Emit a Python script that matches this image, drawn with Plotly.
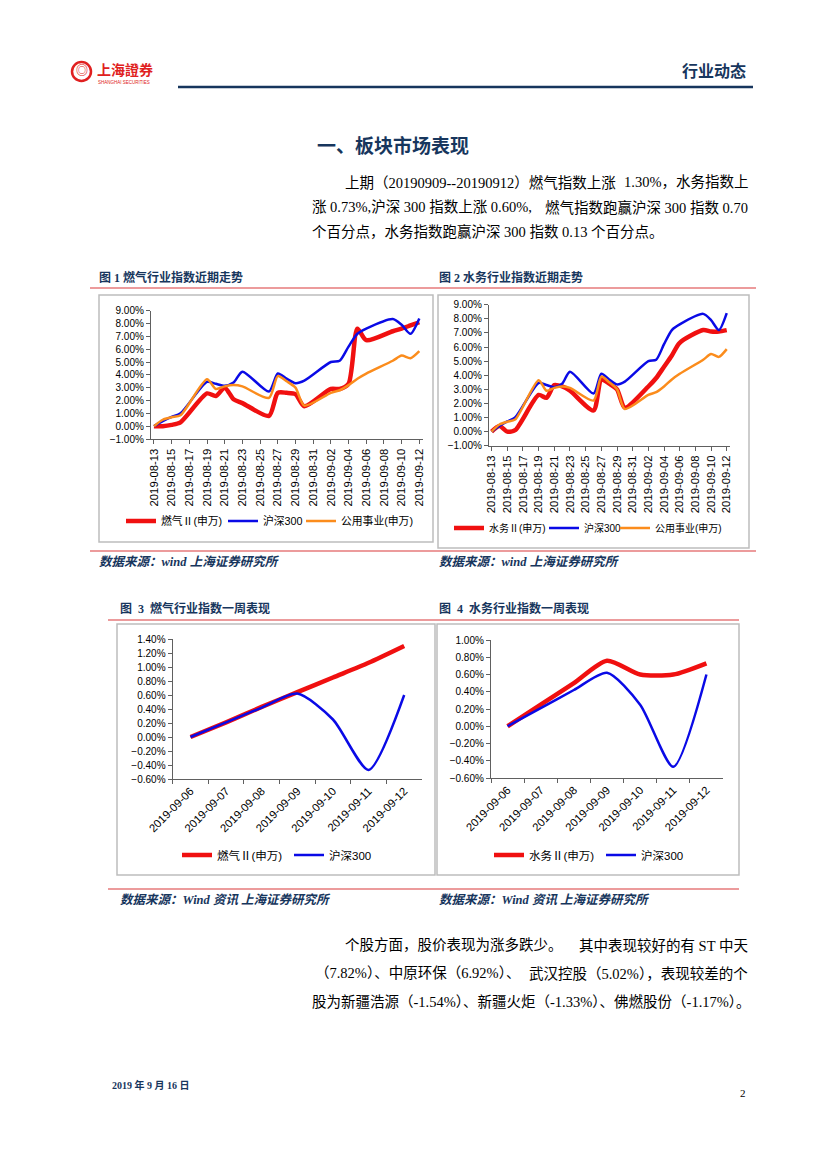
import plotly.graph_objects as go

PAGE_W, PAGE_H = 827, 1169
OFF = 8  # default body margin of the page
FW, FH = PAGE_W - 2 * OFF, PAGE_H - 2 * OFF

# ---------------- data ----------------
dates_month = ["2019-08-13", "2019-08-14", "2019-08-15", "2019-08-16", "2019-08-19", "2019-08-20",
               "2019-08-21", "2019-08-22", "2019-08-23", "2019-08-26", "2019-08-27", "2019-08-28",
               "2019-08-29", "2019-08-30", "2019-09-02", "2019-09-03", "2019-09-04", "2019-09-05",
               "2019-09-06", "2019-09-09", "2019-09-10", "2019-09-11", "2019-09-12"]
gas_month = [0.00, 0.00, 0.10, 0.30, 2.55, 2.35, 3.00, 2.10, 1.80, 0.80, 2.60, 2.60,
             2.50, 1.55, 2.90, 2.90, 3.30, 7.60, 6.70, 7.40, 7.60, 7.85, 8.10]
water_month = [0.00, 0.40, 0.00, 0.10, 2.60, 2.40, 3.30, 3.20, 2.90, 1.50, 3.70, 3.40,
               3.00, 1.70, 3.20, 3.80, 4.60, 5.40, 6.30, 7.20, 7.10, 7.10, 7.20]
hs300_month = [0.00, 0.40, 0.72, 1.00, 3.45, 3.30, 3.15, 3.40, 4.25, 2.70, 4.10, 3.70,
               3.35, 3.55, 5.00, 5.10, 6.20, 7.20, 7.60, 8.35, 7.90, 7.20, 8.40]
util_month = [0.00, 0.50, 0.70, 0.85, 3.65, 2.90, 3.10, 3.20, 3.10, 2.20, 3.90, 3.50,
              3.00, 1.60, 2.60, 2.80, 3.20, 3.70, 4.10, 5.10, 5.50, 5.30, 5.85]
month_ticks = ["2019-08-13", "2019-08-15", "2019-08-17", "2019-08-19", "2019-08-21", "2019-08-23",
               "2019-08-25", "2019-08-27", "2019-08-29", "2019-08-31", "2019-09-02", "2019-09-04",
               "2019-09-06", "2019-09-08", "2019-09-10", "2019-09-12"]

week_dates = ["2019-09-06", "2019-09-07", "2019-09-08", "2019-09-09", "2019-09-10", "2019-09-11", "2019-09-12"]
gas_week = [0.00, 0.21, 0.43, 0.64, 0.85, 1.06, 1.30]
water_week = [0.00, 0.25, 0.50, 0.76, 0.60, 0.60, 0.73]
hs300_week = [0.00, 0.21, 0.42, 0.62, 0.25, -0.47, 0.60]

name_gas = "燃气Ⅱ(申万)"
name_water = "水务Ⅱ(申万)"
name_hs = "沪深300"
name_util = "公用事业(申万)"

# ---------------- style ----------------
RED = "#f01010"
BLUE = "#0a0ae6"
ORANGE = "#fb8c1c"
NAVY = "#17365d"
SEP = "#d9393b"
BOX = "#bdbdbd"
AX = "#606060"
SANS = "Liberation Sans, Arial, Noto Sans CJK SC"
SERIF = "Liberation Serif, Noto Sans CJK SC"


def X(p):
    return (p - OFF) / FW


def Y(p):
    return 1 - (p - OFF) / FH


fig = go.Figure()


def add_line(x, y, name, color, width, xa, ya, legend, lw=None):
    fig.add_trace(go.Scatter(
        x=x, y=y, name=name, mode="lines",
        line=dict(color=color, width=width, shape="spline", smoothing=0.7),
        xaxis=xa, yaxis=ya, legend=legend, legendwidth=lw, hoverinfo="skip"))


add_line(dates_month, gas_month, name_gas, RED, 4.5, "x", "y", "legend", 57)
add_line(dates_month, hs300_month, name_hs, BLUE, 2.5, "x", "y", "legend", 33)
add_line(dates_month, util_month, name_util, ORANGE, 2.5, "x", "y", "legend")

add_line(dates_month, water_month, name_water, RED, 4.5, "x2", "y2", "legend2", 50)
add_line(dates_month, hs300_month, name_hs, BLUE, 2.5, "x2", "y2", "legend2", 26)
add_line(dates_month, util_month, name_util, ORANGE, 2.5, "x2", "y2", "legend2")

add_line(week_dates, gas_week, name_gas, RED, 4.5, "x3", "y3", "legend3", 67)
add_line(week_dates, hs300_week, name_hs, BLUE, 2.5, "x3", "y3", "legend3")

add_line(week_dates, water_week, name_water, RED, 4.5, "x4", "y4", "legend4", 67)
add_line(week_dates, hs300_week, name_hs, BLUE, 2.5, "x4", "y4", "legend4")

yfont = dict(family=SANS, size=10, color="#000")
xfont = dict(family=SANS, size=11.3, color="#000")


def xdate(dom, anchor):
    return dict(domain=dom, anchor=anchor, type="date", automargin=False,
                range=["2019-08-12 16:00", "2019-09-12 10:00"],
                tickvals=month_ticks, ticktext=month_ticks, tickangle=-90,
                showline=True, linecolor=AX, linewidth=1.3, ticks="outside", ticklen=4,
                tickcolor=AX, showgrid=False, zeroline=False, tickfont=xfont)


def ypct(dom, anchor, rng, dt):
    return dict(domain=dom, anchor=anchor, range=rng, dtick=dt, tick0=0, automargin=False,
                ticksuffix="%", tickformat=".2f", showline=True, linecolor=AX, linewidth=1.3,
                ticks="outside", ticklen=4, tickcolor=AX, showgrid=False, zeroline=False,
                tickfont=yfont)


def xcat(dom, anchor):
    return dict(domain=dom, anchor=anchor, type="category", range=[-0.5, 6.5],
                automargin=False,
                tickson="boundaries", tickangle=-45, showline=True, linecolor=AX,
                linewidth=1.3, ticks="outside", ticklen=4, tickcolor=AX, showgrid=False,
                zeroline=False, tickfont=xfont)


def legend_at(xp, yp, size):
    return dict(x=X(xp), y=Y(yp), xanchor="left", yanchor="middle", orientation="h",
                font=dict(family=SANS, size=size, color="#000"), bgcolor="rgba(0,0,0,0)",
                itemwidth=30, tracegroupgap=0, itemclick=False, itemdoubleclick=False)


shapes = []


def rect(x0, y0, x1, y1, color, w):
    shapes.append(dict(type="rect", xref="paper", yref="paper", x0=X(x0), x1=X(x1),
                       y0=Y(y1), y1=Y(y0), line=dict(color=color, width=w)))


def hline(x0, x1, y, color, w):
    shapes.append(dict(type="line", xref="paper", yref="paper", x0=X(x0), x1=X(x1),
                       y0=Y(y), y1=Y(y), line=dict(color=color, width=w)))


# header
hline(178, 753, 87, NAVY, 2.5)
shapes.append(dict(type="circle", xref="paper", yref="paper", x0=X(72), x1=X(91),
                   y0=Y(81), y1=Y(62), line=dict(color="#e02020", width=2.5)))
# separators
hline(90, 756, 288, SEP, 1.2)
hline(90, 756, 551, SEP, 1.2)
hline(108, 739, 620, SEP, 1.2)
hline(108, 739, 889, SEP, 1.2)
# chart boxes
rect(99, 295, 433, 542, BOX, 1.5)
rect(438, 295, 749, 548, BOX, 1.5)
rect(117, 624, 435, 875, BOX, 1.5)
rect(437, 624, 739, 875, BOX, 1.5)

ann = []


def text(x, y, s, size=14.5, color="#000", family=SERIF, anchor="left"):
    ann.append(dict(x=X(x), y=Y(y), xref="paper", yref="paper", text=s, showarrow=False,
                    xanchor=anchor, yanchor="middle",
                    font=dict(size=size, color=color, family=family)))


# logo
text(81.5, 71.5, "<b>◎</b>", 12, "#e02020", SANS, "center")
text(95, 69, "<b>上海證券</b>", 14, "#e02020", "Noto Sans CJK TC", "left")
text(96, 83, "SHANGHAI SECURITIES", 4.5, "#e02020", SANS, "left")
text(748, 70, "<b>行业动态</b>", 16, NAVY, "Noto Sans CJK SC", "right")

text(393, 145, "<b>一、板块市场表现</b>", 19, NAVY, "Noto Sans CJK SC", "center")

# paragraph 1 (justified lines are set in two runs)
text(343, 182, "上期（20190909--20190912）燃气指数上涨")
text(750, 182, "1.30%，水务指数上", anchor="right")
text(310, 207, "涨 0.73%,沪深 300 指数上涨 0.60%,")
text(750, 207, "燃气指数跑赢沪深 300 指数 0.70", anchor="right")
text(310, 232, "个百分点，水务指数跑赢沪深 300 指数 0.13 个百分点。")

text(97, 277, "<b>图 1 燃气行业指数近期走势</b>", 12, NAVY)
text(437, 277, "<b>图 2 水务行业指数近期走势</b>", 12, NAVY)
text(97, 562, "<b><i>数据来源：wind 上海证券研究所</i></b>", 12.5, NAVY)
text(437, 562, "<b><i>数据来源：wind 上海证券研究所</i></b>", 12.5, NAVY)

text(118, 608, "<b>图  3  燃气行业指数一周表现</b>", 12, NAVY)
text(437, 608, "<b>图  4  水务行业指数一周表现</b>", 12, NAVY)
text(118, 900, "<b><i>数据来源：Wind 资讯 上海证券研究所</i></b>", 12.5, NAVY)
text(437, 900, "<b><i>数据来源：Wind 资讯 上海证券研究所</i></b>", 12.5, NAVY)

# paragraph 2
text(343, 945, "个股方面，股价表现为涨多跌少。")
text(750, 945, "其中表现较好的有 ST 中天", anchor="right")
text(313, 973, "（7.82%）、中原环保（6.92%）、")
text(750, 973, "武汉控股（5.02%），表现较差的个", anchor="right")
text(310, 1001, "股为新疆浩源（-1.54%）、新疆火炬（-1.33%）、佛燃股份（-1.17%）。")

text(110, 1085, "<b>2019 年 9 月 16 日</b>", 10, NAVY)
text(748, 1093, "2", 11, "#000", SERIF, "right")

fig.update_layout(
    width=FW, height=FH, margin=dict(l=0, r=0, t=0, b=0, autoexpand=False),
    paper_bgcolor="white", plot_bgcolor="white",
    xaxis=xdate([X(151), X(423)], "y"),
    yaxis=ypct([Y(439), Y(310.7)], "x", [-1, 9], 1),
    xaxis2=xdate([X(489), X(730)], "y2"),
    yaxis2=ypct([Y(445.7), Y(304.7)], "x2", [-1, 9], 1),
    xaxis3=xcat([X(172.7), X(422)], "y3"),
    yaxis3=ypct([Y(779), Y(639)], "x3", [-0.6, 1.4], 0.2),
    xaxis4=xcat([X(491), X(723)], "y4"),
    yaxis4=ypct([Y(778), Y(640)], "x4", [-0.6, 1.0], 0.2),
    legend=legend_at(121, 521, 10.8),
    legend2=legend_at(449, 528, 10),
    legend3=legend_at(177, 855, 11.5),
    legend4=legend_at(489, 855, 11.5),
    shapes=shapes, annotations=ann, showlegend=True,
)

fig.write_html("out.html", config={"displayModeBar": False})
